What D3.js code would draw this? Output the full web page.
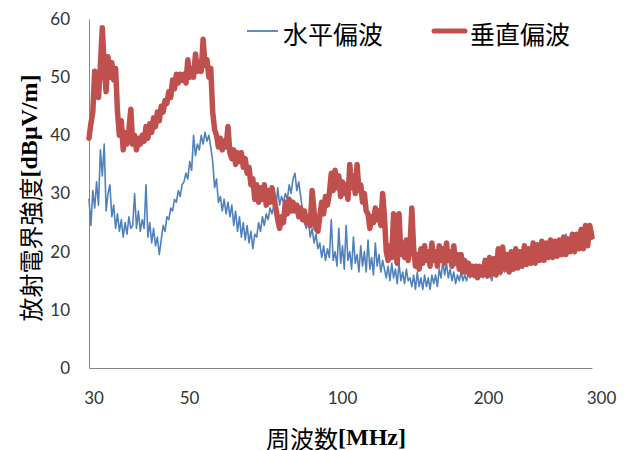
<!DOCTYPE html>
<html><head><meta charset="utf-8">
<script src="https://cdn.jsdelivr.net/npm/d3@7"></script>
<style>body{margin:0;background:#fff}svg{display:block}</style>
</head><body><div id="chart"></div>
<script>
// ---- data ----
const seriesNames = ["水平偏波", "垂直偏波"];
const xTickValues = [30, 50, 100, 200, 300];
const yTickValues = [0, 10, 20, 30, 40, 50, 60];
// measurement grid: [start, stop, step] per band (MHz)
const freqBands = [[30, 50, 0.4], [50, 100, 0.625], [100, 200, 1.25], [200, 302, 2]];

const horizontal = [
  29,24.5,30.5,27.5,32,28,37.5,33,38.5,27, 30,31.5,26,28,24,26.5,23.5,25.5,22.5,25,
  23,26,24,24.5,30,24,27,23.5,25.5,24, 31.5,22.5,25,21.5,24,21,22.5,19.5,22,24.5,
  23.5,26,25.5,27.5,27,29,28.5,30.5,29.5,31.5,
  32,33.5,32.5,35.5,34,40,36.5,38.5,37.5,40, 38.5,40.5,39,40,38,35.5,31,32.5,28.5,29.5,
  27,29,26.5,28.5,26,28,24.5,27,23.5,26, 22.5,25,22,24.5,21.5,23.5,20.5,23,22.5,25,
  23.5,26,24.5,26.5,25.5,27.5,26.5,28,27,31, 28,29.5,28.5,30,29,31.5,30,32.5,33.5,30.5,
  32,29.5,27,25,24,25.5,22.5,24,21.5,23, 20.5,21.5,19,21,18.5,20.5,19,25.5,18.5,20,
  17.5,24,18,21,17,24.5,18.5,20,17,22.5, 18,19.5,16.5,21,17.5,20,16.5,22,17,19,
  16,21.5,17.5,19.5,16.5,18.5,17,15.5,17.5,15, 18,15.5,17,14.5,18,15,16.5,14.5,17,15,
  15.5,14,16,13.5,16.5,14,15.5,13.5,16,14, 15.5,13.5,16,14.5,16,14,17,15.5,18.5,16,
  18,15.5,17,15,16.5,14.5,16,15,16.5,15, 16,15,16.5,15.5,16.5,15.5,17,15.5,16.5,16,
  15.5,17,15.5,16.5,15,17,16,17.5,16,18, 16.5,18,17,18.5,17.5,19,17.5,19,18,19.5,
  18.5,19.5,18.5,20,19,20.5,19.5,20.5,19.5,21, 21.5,20,20.5,20,21,20.5,21.5,21,23,21,
  21.5,21,22,21.5,22.5,22,23,22.5,24,23, 23.5
];

const vertical = [
  39.5,42,44,51,50,46.5,52,58.5,52,47.5, 53.5,50,52.5,49.5,51.5,44,40,42.5,37.5,40.5,
  38.5,41,44.5,38.5,40,37.5,39.5,38.5,40,39, 41.5,39.5,42,40.5,43,41.5,44,42.5,45,44,
  46,45.5,47.5,46.5,49.5,48,50.5,49,50.5,49.5,
  50.5,49,53,50,51.5,50,54,51,52.5,51, 56.5,52,53,50,51.5,44,41,40,38,39.5,
  37.5,39,38,41.5,37,36,37.5,35,37,35.5, 37,34.5,36,33.5,34.5,31.5,32.5,29,31.5,28.5,
  31,29,31.5,28,30.5,28.5,31,29,27.5,25.5, 24,26,25,28.5,26.5,29,27,28.5,27,28,
  26,27.5,25.5,27,25,26,24.5,30.5,27,24, 23.5,26,28.5,26.5,29.5,28,30,33.5,30.5,34,
  31,33,29.5,32,30,31.5,29,35,31,33, 30,35,30.5,31.5,28.5,30,27,26.5,24,26,
  25,27.5,25.5,27,24.5,30,26,20,18.5,21, 19,26.5,20,18,26.5,19.5,21.5,19,22,18.5,
  21,27.5,20.5,17.5,19.5,17,20.5,18,21,18.5, 20,17.5,21.5,18.5,20,17.5,21,18.5,20.5,18,
  21.5,18.5,20,17.5,21,18,19.5,17,19.5,16.5, 18.5,16.5,18,16,17.5,16,17.5,15.5,17.5,16,
  16,18.5,15.8,19,16.2,18.8,16,20.5,16.5,20.8, 17,19.5,16.5,20,17,20.5,17.2,20,17.5,21,
  17.8,20.5,18,21.5,18,21.2,18.5,21.8,18.5,21.5, 19,22,19,21.8,19.2,22,19.5,22.5,19.5,22.2,
  20,23,20,23,20.5,23.8,20.5,24.5,21,24.5, 22.5
];

// ---- build ----
const freqs = freqBands.flatMap(([a, b, s]) => d3.range(a, b, s));
const W = 629, H = 450;
const svg = d3.select("#chart").append("svg").attr("width", W).attr("height", H)
  .style("background", "#fff");

const x = d3.scaleLinear().domain(xTickValues).range([89, 184, 337, 483, 592]);
const xLabel = d3.scaleLinear().domain(xTickValues).range([93.5, 189, 342, 488, 601]);
const y = d3.scaleLinear().domain([0, 60]).range([368, 19]);

const tickFont = "Lato, 'Open Sans', sans-serif";
const axisColor = "#868686";

// y axis
const gy = svg.append("g").attr("transform", `translate(${x(30)},0)`)
  .call(d3.axisLeft(y).tickValues(yTickValues).tickSize(0).tickSizeOuter(0).tickPadding(19));
gy.select(".domain").attr("stroke", axisColor).attr("stroke-width", 1);
gy.selectAll("text").attr("font-family", tickFont).attr("font-size", 17).attr("fill", "#333");

// x axis
const gx = svg.append("g").attr("transform", `translate(0,${y(0)})`)
  .call(d3.axisBottom(x).tickValues(xTickValues).tickSize(0).tickSizeOuter(0).tickPadding(24));
gx.select(".domain").attr("stroke", axisColor).attr("stroke-width", 1);
gx.selectAll("text").attr("font-family", tickFont).attr("font-size", 17).attr("fill", "#333")
  .attr("x", d => xLabel(d) - x(d));

// lines
const colors = ["#4F81BD", "#C0504D"];
const widths = [1.6, 5.5];
const seriesData = [horizontal, vertical];
const line = d3.line().x(d => x(d[0])).y(d => y(d[1]));
seriesData.forEach((vals, i) => {
  svg.append("path")
    .datum(vals.map((v, j) => [freqs[j], v]))
    .attr("d", line)
    .attr("fill", "none")
    .attr("stroke", colors[i])
    .attr("stroke-width", widths[i])
    .attr("stroke-linejoin", "round")
    .attr("stroke-linecap", "round");
});

// legend
const legendItems = [
  {x1: 247, x2: 278, tx: 283},
  {x1: 434, x2: 465, tx: 470}
];
legendItems.forEach((it, i) => {
  svg.append("line").attr("x1", it.x1).attr("x2", it.x2).attr("y1", 31).attr("y2", 31)
    .attr("stroke", colors[i]).attr("stroke-width", i ? 5 : 1.8).attr("stroke-linecap", i ? "round" : "butt");
  svg.append("text").attr("x", it.tx).attr("y", 33).attr("dominant-baseline", "central")
    .attr("font-family", "'Noto Sans CJK JP', sans-serif").attr("font-size", 25).attr("fill", "#000")
    .text(seriesNames[i]);
});

// axis titles: CJK part + bold serif unit part, laid out side by side and centred
const cjk = "'Noto Sans CJK JP', sans-serif";
const serif = "'Liberation Serif', 'Times New Roman', serif";
function twoPartTitle(g, a, b) {
  const t1 = g.append("text").attr("font-family", cjk).attr("font-size", 24)
    .attr("dominant-baseline", "central").attr("fill", "#000").text(a);
  const t2 = g.append("text").attr("font-family", serif).attr("font-weight", "bold").attr("font-size", 24)
    .attr("dominant-baseline", "central").attr("fill", "#000").text(b);
  const w1 = t1.node().getComputedTextLength(), w2 = t2.node().getComputedTextLength();
  const start = -(w1 + w2) / 2;
  t1.attr("x", start);
  t2.attr("x", start + w1);
}
twoPartTitle(svg.append("g").attr("transform", "translate(29,198) rotate(-90)"), "放射電界強度", "[dBμV/m]");
twoPartTitle(svg.append("g").attr("transform", "translate(336,437)"), "周波数", "[MHz]");
</script>
</body></html>
